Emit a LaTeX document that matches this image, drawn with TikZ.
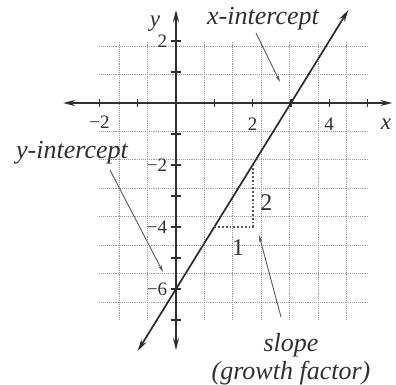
\documentclass[tikz,border=0pt]{standalone}
\usepackage{fontspec}
\setmainfont{Liberation Serif}
\usetikzlibrary{arrows.meta}
\definecolor{ink}{HTML}{303030}
\definecolor{gridc}{HTML}{9A9A9A}
\begin{document}
\begin{tikzpicture}[x=38.3pt,y=31pt,
  gridline/.style={gridc,densely dotted,line width=0.9pt},
  axisline/.style={ink,line width=1.7pt,{Stealth[length=12pt,width=6pt]}-{Stealth[length=12pt,width=6pt]}},
  graphline/.style={ink!90!black,line width=1.7pt,{Stealth[length=12pt,width=6pt]}-{Stealth[length=12pt,width=6pt]}},
  tickmark/.style={ink,line width=1.2pt},
  ticklab/.style={text=ink,font=\fontsize{19}{19}\selectfont,inner sep=1pt},
  trilab/.style={text=ink,font=\fontsize{24}{24}\selectfont,inner sep=1pt},
  annot/.style={text=ink,font=\fontsize{26}{28}\selectfont\itshape,inner sep=0pt,align=center},
  pointer/.style={ink!80,line width=0.9pt,-{Stealth[length=7pt,width=3.5pt]}},
  slopetri/.style={gray!70!black,dotted,line width=1.8pt}]
\useasboundingbox (-176pt,-282pt) rectangle (220pt,103pt);
% grid
\draw[gridline] (-2,-7) grid (5,2);
% axes
\coordinate (xl) at (-2.95,0);
\coordinate (xr) at (5.65,0);
\coordinate (yb) at (0,-7.97);
\coordinate (yt) at (0,3.0);
\draw[axisline] (xl) -- (xr);
\draw[axisline] (yb) -- (yt);
\foreach \i in {-2,-1,1,2,3,4,5} \draw[tickmark] (\i,0) ++(0,-4pt) -- ++(0,8pt);
\foreach \j in {-7,...,-1,1,2} \draw[tickmark] (0,\j) ++(-5pt,0) -- ++(10pt,0);
% tick labels
\node[ticklab] (xm2) at (-2,-0.62) {−2};
\node[ticklab] (x2) at (2,-0.68) {2};
\node[ticklab] (x4) at (4,-0.68) {4};
\node[ticklab,anchor=east] (y2) at (-0.2,2) {2};
\node[ticklab,anchor=east] (ym2) at (-0.2,-2) {−2};
\node[ticklab,anchor=east] (ym4) at (-0.2,-4) {−4};
\node[ticklab,anchor=east] (ym6) at (-0.2,-6) {−6};
\node[annot,font=\fontsize{23}{23}\selectfont\itshape] (xlab) at (5.48,-0.7) {x};
\node[annot,font=\fontsize{23}{23}\selectfont\itshape] (ylab) at (-0.55,2.55) {y};
% the line y = 2x - 6
\coordinate (gb) at (-1,-8);
\coordinate (gt) at (4.5,3);
\draw[graphline] (gb) -- (gt);
% slope triangle
\coordinate (ta) at (1,-4);
\coordinate (tb) at (2,-4);
\coordinate (tc) at (2,-2);
\draw[slopetri] (ta) -- (tb) -- (tc);
\node[trilab] (one) at (1.62,-4.65) {1};
\node[trilab] (two) at (2.36,-3.22) {2};
% annotations
\node[annot] (xint) at (87pt,84pt) {x-intercept};
\node[annot] (yint) at (-104pt,-50pt) {y-intercept};
\node[annot] (slope) at (115pt,-242pt) {slope};
\node[annot] (growth) at (115pt,-270pt) {(growth factor)};
\coordinate (xs) at (80pt,70pt);
\coordinate (xe) at (104pt,21pt);
\coordinate (ys) at (-66pt,-67pt);
\coordinate (ye) at (-13pt,-169pt);
\coordinate (ss) at (105pt,-214pt);
\coordinate (se) at (83pt,-132pt);
\draw[pointer] (xs) -- (xe);
\draw[pointer] (ys) -- (ye);
\draw[pointer] (ss) -- (se);
\end{tikzpicture}
\end{document}
